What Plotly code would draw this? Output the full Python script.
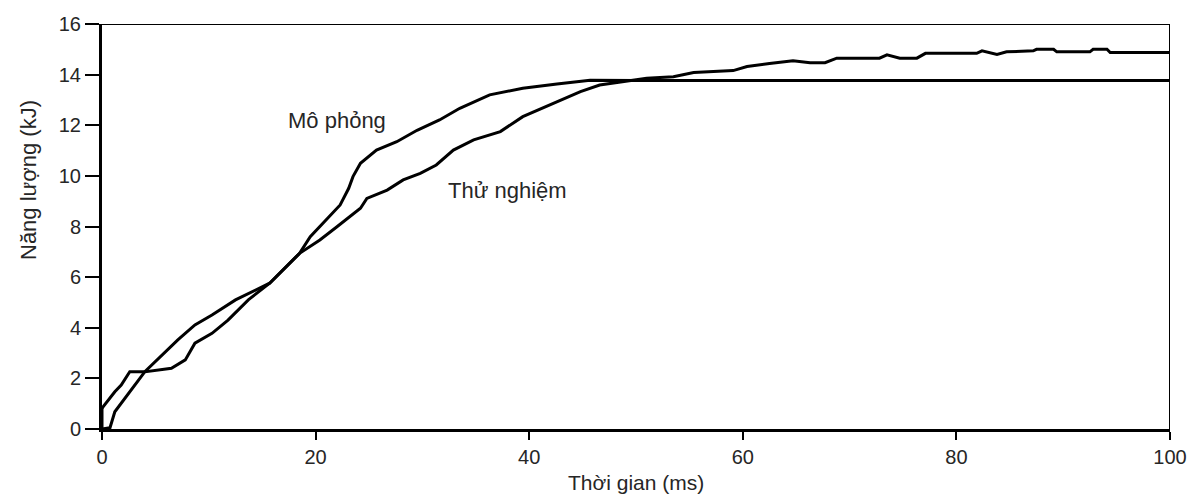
import plotly.graph_objects as go

# Mô phỏng (simulation)
t_mo_phong = [0, 0.75, 1.2, 2.5, 4.0, 6.5, 7.8, 8.7, 10.3, 11.8, 13.7, 15.7, 18.5, 19.5, 21.3,
              22.3, 23.1, 23.5, 24.2, 25.7, 27.6, 29.5, 31.6, 33.5, 36.3, 39.4, 42.6, 45.7,
              50, 60, 70, 80, 90, 100]
e_mo_phong = [0, 0.05, 0.68, 1.41, 2.26, 2.4, 2.73, 3.39, 3.78, 4.3, 5.1, 5.76, 6.94, 7.6, 8.39,
              8.85, 9.51, 9.97, 10.5, 11.02, 11.35, 11.8, 12.21, 12.67, 13.2, 13.46, 13.63, 13.78,
              13.77, 13.77, 13.77, 13.77, 13.77, 13.77]

# Thử nghiệm (experiment)
t_thu_nghiem = [0, 0, 0.1, 1.2, 1.8, 2.6, 4.0, 5.6, 7.1, 8.7, 10.3, 12.5, 15.7, 18.5, 20.4, 22.0,
                24.2, 24.8, 26.7, 28.2, 29.8, 31.3, 32.9, 34.8, 37.3, 39.4, 42.6, 44.8, 46.6,
                48.8, 51.0, 53.5, 55.4, 59.1, 60.4, 62.5, 64.7, 66.3, 67.7, 68.8, 72.8, 73.5,
                74.7, 76.3, 77.1, 81.9, 82.4, 83.8, 84.7, 87.2, 87.5, 89.1, 89.4, 92.5, 92.8,
                94.1, 94.4, 100]
e_thu_nghiem = [0, 0.8, 0.88, 1.47, 1.74, 2.26, 2.26, 2.92, 3.52, 4.11, 4.5, 5.1, 5.76, 6.94, 7.47,
                7.99, 8.72, 9.11, 9.44, 9.84, 10.1, 10.43, 11.02, 11.42, 11.75, 12.34, 12.93,
                13.33, 13.59, 13.72, 13.86, 13.92, 14.08, 14.16, 14.32, 14.44, 14.55, 14.47,
                14.47, 14.65, 14.65, 14.78, 14.65, 14.65, 14.84, 14.84, 14.94, 14.8, 14.9, 14.94,
                15.0, 15.0, 14.9, 14.9, 15.0, 15.0, 14.87, 14.87]

x_ticks = [0, 20, 40, 60, 80, 100]
y_ticks = [0, 2, 4, 6, 8, 10, 12, 14, 16]

FONT = "Liberation Sans, Arial, sans-serif"
TXT = "#262626"

fig = go.Figure()
fig.add_trace(go.Scatter(x=t_mo_phong, y=e_mo_phong, mode="lines",
                         line=dict(color="black", width=3), name="Mô phỏng"))
fig.add_trace(go.Scatter(x=t_thu_nghiem, y=e_thu_nghiem, mode="lines",
                         line=dict(color="black", width=3), name="Thử nghiệm"))

fig.update_layout(
    width=1198, height=497,
    margin=dict(l=102, r=28, t=24, b=68),
    paper_bgcolor="white", plot_bgcolor="white",
    showlegend=False,
    font=dict(family=FONT, size=20, color=TXT),
    xaxis=dict(range=[0, 100], tickvals=x_ticks, ticks="outside", ticklen=8, tickwidth=2,
               tickcolor="black", showline=True, linecolor="black", linewidth=3,
               showgrid=False, zeroline=False, automargin=False,
               tickfont=dict(size=20)),
    yaxis=dict(range=[0, 16], tickvals=y_ticks, ticks="outside", ticklen=14, tickwidth=2,
               tickcolor="black", showline=True, linecolor="black", linewidth=3,
               showgrid=False, zeroline=False, automargin=False, tickfont=dict(size=20)),
    annotations=[
        dict(text="Mô phỏng", x=22.0, y=12.2, xref="x", yref="y", showarrow=False,
             font=dict(size=22, color=TXT)),
        dict(text="Thử nghiệm", x=38.0, y=9.44, xref="x", yref="y", showarrow=False,
             font=dict(size=22, color=TXT)),
        dict(text="Năng lượng (kJ)", x=(28 - 102) / (1198 - 102 - 28),
             y=(429 - 180) / (429 - 24), xref="paper", yref="paper",
             xanchor="center", yanchor="middle",
             showarrow=False, textangle=-90, font=dict(size=22, color=TXT)),
        dict(text="Thời gian (ms)", x=0.5, y=(429 - 482) / (429 - 24),
             xref="paper", yref="paper", xanchor="center", yanchor="middle",
             showarrow=False, font=dict(size=21, color=TXT)),
    ],
    shapes=[
        dict(type="line", xref="x", yref="y", x0=0, x1=100, y0=16, y1=16,
             line=dict(color="black", width=2)),
        dict(type="line", xref="x", yref="y", x0=100, x1=100, y0=0, y1=16,
             line=dict(color="black", width=2)),
    ],
)

fig.write_html("out.html")
